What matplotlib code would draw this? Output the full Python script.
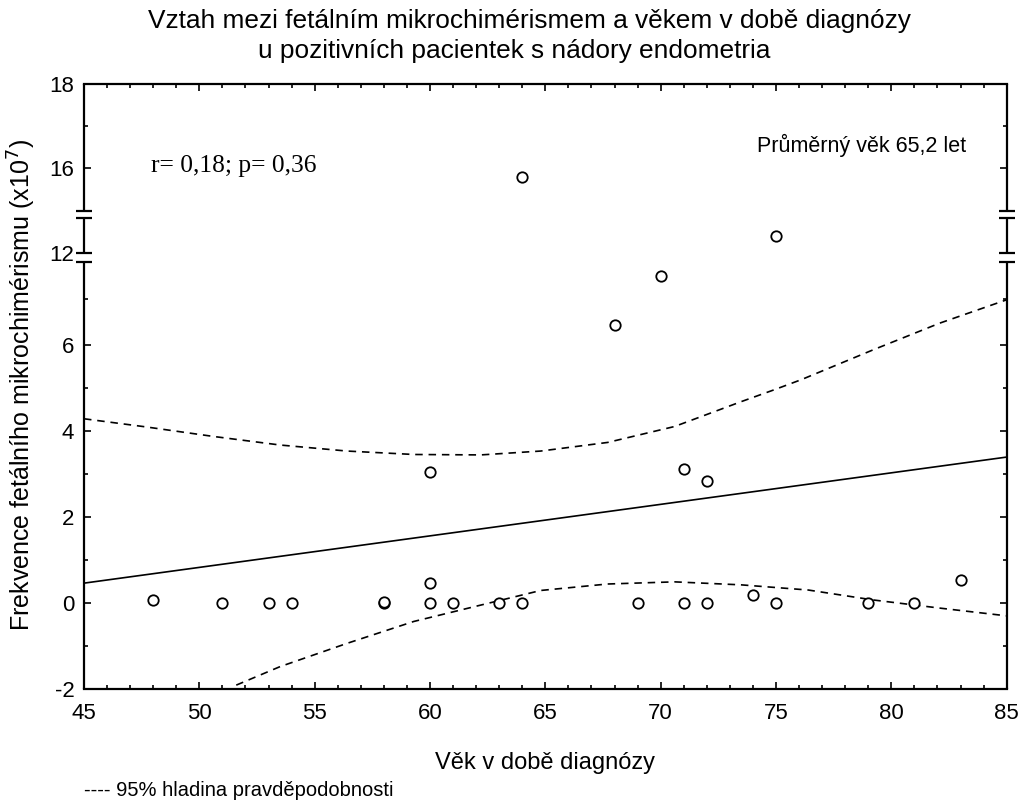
import numpy as np
import matplotlib
matplotlib.use("Agg")
import matplotlib.pyplot as plt

plt.rcParams['font.family'] = ['Liberation Sans', 'DejaVu Sans']

# points (age, fetal microchimerism x10^7)
ages = [48, 51, 53, 54, 58, 58, 60, 60, 60, 61, 63, 64, 64,
        68, 69, 70, 71, 71, 72, 72, 74, 75, 75, 79, 81, 83]
values = [0.07, 0, 0, 0, 0, 0.02, 3.05, 0.47, 0, 0, 0, 0, 15.6,
          7.3, 0, 10.5, 3.11, 0, 2.84, 0, 0.19, 0, 12.8, 0, 0, 0.53]

# regression line and 95% band
fit_ages = [45, 85]
fit_vals = [0.46, 3.39]
upper_ages = [45, 47.7, 50.6, 53.5, 56.4, 59.3, 62.2, 64.8, 67.7, 70.6,
              73.5, 74.9, 76.1, 79.2, 82.1, 85]
upper_vals = [4.28, 4.09, 3.87, 3.67, 3.53, 3.45, 3.44, 3.53, 3.73, 4.10,
              4.68, 4.95, 5.19, 5.88, 7.41, 8.93]
lower_ages = [51.6, 53.5, 56.4, 59.3, 62.2, 64.8, 67.7, 70.6, 73.5,
              76.4, 79.2, 82.1, 85]
lower_vals = [-1.91, -1.48, -0.94, -0.43, -0.05, 0.29, 0.44, 0.49, 0.42,
              0.30, 0.07, -0.12, -0.30]

ytick_vals = [-2, 0, 2, 4, 6, 12, 16, 18]
yminor_vals = [-1, 1, 3, 5, 9, 17]
xticks = [45, 50, 55, 60, 65, 70, 75, 80, 85]

# broken axis: value -> drawing position
knot_vals = [-2, 6, 12, 16, 18]
knot_pos = [-1, 3, 4.07, 5.05, 6.03]


def ypos(v):
    return np.interp(v, knot_vals, knot_pos)


fig = plt.figure(figsize=(10.21, 8.07), dpi=100)
ax = fig.add_axes([84/1021, 1-689/807, (1006.7-84)/1021, 605/807])

ax.plot(fit_ages, ypos(fit_vals), color='black', lw=1.2)
ax.plot(upper_ages, ypos(upper_vals), color='black', lw=1.2, dashes=(4.5, 3.5))
ax.plot(lower_ages, ypos(lower_vals), color='black', lw=1.2, dashes=(4.5, 3.5))
ax.plot(ages, ypos(values), 'o', mfc='white', mec='black', ms=7.5, mew=1.3,
        linestyle='none', zorder=5)

ax.set_xlim(45, 85)
ax.set_ylim(-1, 6.03)

ax.set_xticks(xticks)
ax.set_xticks(np.arange(45, 86, 1), minor=True)
ax.set_yticks(ypos(ytick_vals))
ax.set_yticklabels([str(v) for v in ytick_vals])
ax.set_yticks(ypos(yminor_vals), minor=True)
ax.tick_params(which='both', direction='in', top=True, right=True,
               labelsize=16, width=1.2)
ax.tick_params(axis='x', pad=10)
ax.tick_params(axis='y', pad=7)
ax.tick_params(which='major', length=5)
ax.tick_params(which='minor', length=3)

# left/right spines drawn with gaps for the break
ax.spines['left'].set_visible(False)
ax.spines['right'].set_visible(False)
for s in ['top', 'bottom']:
    ax.spines[s].set_linewidth(1.6)
gaps = [(3.965, 4.07), (4.477, 4.558)]
segs = [(-1, 3.965), (4.07, 4.477), (4.558, 6.03)]
for xs in [45, 85]:
    for a, b in segs:
        ax.plot([xs, xs], [a, b], color='black', lw=1.6, clip_on=False,
                solid_capstyle='butt')
    for a, b in gaps:
        ax.plot([xs, xs], [a, b], '_', color='black', ms=11, mew=1.6,
                clip_on=False)

ax.text(67/922.7, (689-172)/605, 'r= 0,18; p= 0,36', transform=ax.transAxes,
        family='Liberation Serif', fontsize=18.4, va='baseline')
ax.text((757-84)/922.7, (689-152)/605, 'Průměrný věk 65,2 let',
        transform=ax.transAxes, fontsize=15.5, va='baseline')

fig.text(529/1021, 1-21/807, 'Vztah mezi fetálním mikrochimérismem a věkem v době diagnózy',
         ha='center', va='center', fontsize=18.9)
fig.text(514/1021, 1-51/807, 'u pozitivních pacientek s nádory endometria',
         ha='center', va='center', fontsize=18.9)
fig.text(545/1021, 1-763/807, 'Věk v době diagnózy', ha='center', va='center',
         fontsize=17)
fig.text(22/1021, 1-385/807, 'Frekvence fetálního mikrochimérismu (x10$^7$)',
         rotation=90, ha='center', va='center', fontsize=18)
fig.text(84/1021, 1-790/807, '---- 95% hladina pravděpodobnosti', ha='left',
         va='center', fontsize=14.5)

fig.savefig('out.png', dpi=100)
